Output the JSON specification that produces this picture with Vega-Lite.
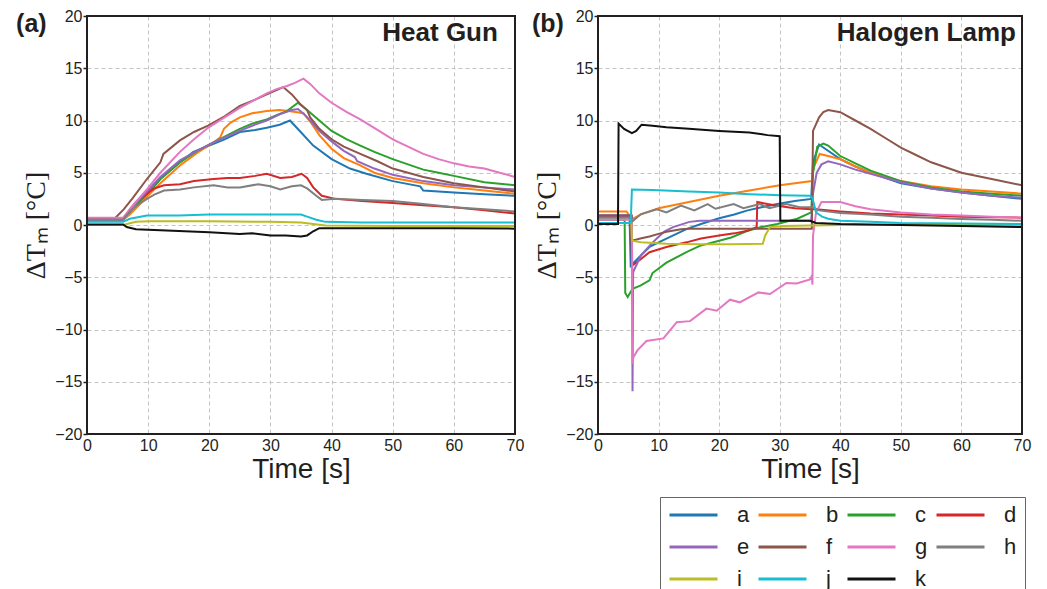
{
  "$schema": "https://vega.github.io/schema/vega-lite/v6.json",
  "padding": {"left": 16, "top": 8, "right": 5, "bottom": 0},
  "background": "white",
  "config": {
    "font": "Liberation Sans",
    "view": {"stroke": null},
    "axis": {
      "grid": true, "gridColor": "#c4c4c4", "gridDash": [4, 3], "gridWidth": 1,
      "domain": false, "labelFont": "Liberation Sans", "labelFontSize": 16,
      "labelColor": "#231f20", "tickColor": "#231f20", "tickWidth": 1.5,
      "titleColor": "#231f20", "titleFontWeight": "normal", "labelOverlap": false,
      "labelBound": false, "labelFlush": false
    },
    "legend": {
      "orient": "none", "legendX": 573, "legendY": 481, "columns": 4, "direction": "horizontal",
      "symbolType": "stroke", "symbolSize": 2304, "symbolStrokeWidth": 3,
      "clipHeight": 20, "labelFontSize": 22, "labelFont": "Liberation Sans",
      "labelColor": "#231f20", "labelOffset": 18, "columnPadding": 7, "rowPadding": 10,
      "padding": 8, "strokeColor": "#666666", "fillColor": "white", "title": null
    }
  },
  "datasets": {
    "heat": [
      {"s":"a","t":0,"v":0.5},{"s":"a","t":5.9,"v":0.5},{"s":"a","t":7,"v":1.2},{"s":"a","t":8,"v":1.9},{"s":"a","t":9.8,"v":2.9},{"s":"a","t":12,"v":4.4},{"s":"a","t":15.2,"v":6.0},{"s":"a","t":17.4,"v":7.0},{"s":"a","t":20,"v":7.6},{"s":"a","t":22.5,"v":8.2},{"s":"a","t":25,"v":8.9},{"s":"a","t":27.5,"v":9.1},{"s":"a","t":29.4,"v":9.3},{"s":"a","t":31.5,"v":9.6},{"s":"a","t":33.2,"v":10.0},{"s":"a","t":34.8,"v":9.0},{"s":"a","t":37,"v":7.6},{"s":"a","t":40,"v":6.3},{"s":"a","t":43,"v":5.4},{"s":"a","t":45.7,"v":4.9},{"s":"a","t":50,"v":4.2},{"s":"a","t":54.5,"v":3.7},{"s":"a","t":55,"v":3.3},{"s":"a","t":60,"v":3.1},{"s":"a","t":65,"v":2.95},{"s":"a","t":70,"v":2.8},
      {"s":"b","t":0,"v":0.5},{"s":"b","t":5.9,"v":0.5},{"s":"b","t":7,"v":1.0},{"s":"b","t":8,"v":1.6},{"s":"b","t":9.8,"v":2.7},{"s":"b","t":12,"v":4.0},{"s":"b","t":15.2,"v":5.7},{"s":"b","t":18,"v":6.9},{"s":"b","t":20.7,"v":7.9},{"s":"b","t":21.8,"v":8.4},{"s":"b","t":22.4,"v":9.2},{"s":"b","t":23.5,"v":9.8},{"s":"b","t":25,"v":10.3},{"s":"b","t":27,"v":10.7},{"s":"b","t":29.4,"v":10.9},{"s":"b","t":31.5,"v":11.0},{"s":"b","t":33,"v":10.9},{"s":"b","t":35.4,"v":10.7},{"s":"b","t":36.5,"v":9.9},{"s":"b","t":38,"v":8.6},{"s":"b","t":40,"v":7.3},{"s":"b","t":42,"v":6.4},{"s":"b","t":44.7,"v":5.7},{"s":"b","t":47,"v":5.0},{"s":"b","t":50,"v":4.5},{"s":"b","t":55,"v":4.0},{"s":"b","t":60,"v":3.6},{"s":"b","t":65,"v":3.3},{"s":"b","t":70,"v":3.0},
      {"s":"c","t":0,"v":0.5},{"s":"c","t":5.9,"v":0.5},{"s":"c","t":7,"v":1.3},{"s":"c","t":8,"v":2.0},{"s":"c","t":9.8,"v":3.0},{"s":"c","t":12,"v":4.4},{"s":"c","t":15.2,"v":6.0},{"s":"c","t":18,"v":7.1},{"s":"c","t":20.7,"v":7.9},{"s":"c","t":23,"v":8.6},{"s":"c","t":25,"v":9.2},{"s":"c","t":27,"v":9.7},{"s":"c","t":29.4,"v":10.1},{"s":"c","t":31,"v":10.5},{"s":"c","t":32.7,"v":10.9},{"s":"c","t":34.5,"v":11.7},{"s":"c","t":36,"v":11.0},{"s":"c","t":38,"v":10.0},{"s":"c","t":40,"v":9.0},{"s":"c","t":42.5,"v":8.2},{"s":"c","t":44.7,"v":7.6},{"s":"c","t":47,"v":7.0},{"s":"c","t":50,"v":6.3},{"s":"c","t":52.5,"v":5.8},{"s":"c","t":55,"v":5.3},{"s":"c","t":57.5,"v":5.0},{"s":"c","t":60,"v":4.7},{"s":"c","t":65,"v":4.1},{"s":"c","t":70,"v":3.8},
      {"s":"d","t":0,"v":0.5},{"s":"d","t":5.9,"v":0.5},{"s":"d","t":7,"v":1.5},{"s":"d","t":8,"v":2.2},{"s":"d","t":9.8,"v":3.0},{"s":"d","t":11,"v":3.5},{"s":"d","t":12.6,"v":3.8},{"s":"d","t":15.2,"v":3.9},{"s":"d","t":17.5,"v":4.2},{"s":"d","t":20.7,"v":4.4},{"s":"d","t":23,"v":4.5},{"s":"d","t":25,"v":4.5},{"s":"d","t":27.5,"v":4.7},{"s":"d","t":29.4,"v":4.9},{"s":"d","t":31.6,"v":4.5},{"s":"d","t":33.5,"v":4.6},{"s":"d","t":35.1,"v":4.9},{"s":"d","t":36,"v":4.5},{"s":"d","t":37,"v":3.6},{"s":"d","t":38.4,"v":2.8},{"s":"d","t":40.6,"v":2.5},{"s":"d","t":45,"v":2.3},{"s":"d","t":50,"v":2.1},{"s":"d","t":55,"v":1.9},{"s":"d","t":60,"v":1.7},{"s":"d","t":65,"v":1.4},{"s":"d","t":70,"v":1.1},
      {"s":"e","t":0,"v":0.5},{"s":"e","t":5.9,"v":0.5},{"s":"e","t":7,"v":1.3},{"s":"e","t":8,"v":2.1},{"s":"e","t":9.8,"v":3.2},{"s":"e","t":12,"v":4.6},{"s":"e","t":15.2,"v":6.2},{"s":"e","t":18,"v":7.1},{"s":"e","t":20.7,"v":7.9},{"s":"e","t":23,"v":8.5},{"s":"e","t":25,"v":9.0},{"s":"e","t":27,"v":9.5},{"s":"e","t":29.4,"v":10.0},{"s":"e","t":31.5,"v":10.6},{"s":"e","t":33.5,"v":11.0},{"s":"e","t":34.5,"v":11.1},{"s":"e","t":35.5,"v":10.6},{"s":"e","t":36.5,"v":10.0},{"s":"e","t":38,"v":9.0},{"s":"e","t":40,"v":8.0},{"s":"e","t":42,"v":7.1},{"s":"e","t":43.8,"v":6.5},{"s":"e","t":44.2,"v":6.1},{"s":"e","t":47,"v":5.4},{"s":"e","t":50,"v":4.8},{"s":"e","t":55,"v":4.2},{"s":"e","t":60,"v":3.8},{"s":"e","t":65,"v":3.6},{"s":"e","t":70,"v":3.4},
      {"s":"f","t":0,"v":0.6},{"s":"f","t":4.5,"v":0.6},{"s":"f","t":6,"v":1.5},{"s":"f","t":7.5,"v":2.6},{"s":"f","t":9.8,"v":4.4},{"s":"f","t":12,"v":6.0},{"s":"f","t":12.5,"v":6.8},{"s":"f","t":15.2,"v":8.1},{"s":"f","t":17.5,"v":8.9},{"s":"f","t":19.8,"v":9.5},{"s":"f","t":22.5,"v":10.4},{"s":"f","t":25,"v":11.4},{"s":"f","t":27.5,"v":12.0},{"s":"f","t":29.4,"v":12.5},{"s":"f","t":31,"v":12.9},{"s":"f","t":32.1,"v":13.2},{"s":"f","t":33.5,"v":12.5},{"s":"f","t":35,"v":11.5},{"s":"f","t":36,"v":11.0},{"s":"f","t":36.5,"v":10.3},{"s":"f","t":38,"v":9.2},{"s":"f","t":40,"v":8.2},{"s":"f","t":42,"v":7.5},{"s":"f","t":44.7,"v":6.8},{"s":"f","t":47.5,"v":6.1},{"s":"f","t":50,"v":5.4},{"s":"f","t":55,"v":4.6},{"s":"f","t":60,"v":4.0},{"s":"f","t":65,"v":3.6},{"s":"f","t":70,"v":3.2},
      {"s":"g","t":0,"v":0.7},{"s":"g","t":5.9,"v":0.7},{"s":"g","t":7,"v":1.5},{"s":"g","t":8,"v":2.2},{"s":"g","t":9.8,"v":3.4},{"s":"g","t":12,"v":5.0},{"s":"g","t":15.2,"v":7.0},{"s":"g","t":17.5,"v":8.2},{"s":"g","t":19.8,"v":9.3},{"s":"g","t":22.5,"v":10.3},{"s":"g","t":25,"v":11.2},{"s":"g","t":27.5,"v":12.0},{"s":"g","t":29.4,"v":12.6},{"s":"g","t":31,"v":13.0},{"s":"g","t":32.7,"v":13.3},{"s":"g","t":34,"v":13.6},{"s":"g","t":35.4,"v":14.0},{"s":"g","t":36.5,"v":13.5},{"s":"g","t":38,"v":12.6},{"s":"g","t":40,"v":11.7},{"s":"g","t":42.5,"v":10.8},{"s":"g","t":44.7,"v":10.1},{"s":"g","t":47.5,"v":9.1},{"s":"g","t":50,"v":8.2},{"s":"g","t":52.5,"v":7.5},{"s":"g","t":55,"v":6.8},{"s":"g","t":57.5,"v":6.3},{"s":"g","t":60,"v":5.9},{"s":"g","t":62.5,"v":5.6},{"s":"g","t":65,"v":5.4},{"s":"g","t":67.5,"v":5.0},{"s":"g","t":70,"v":4.6},
      {"s":"h","t":0,"v":0.5},{"s":"h","t":5.9,"v":0.5},{"s":"h","t":7,"v":1.3},{"s":"h","t":8,"v":1.8},{"s":"h","t":9.8,"v":2.5},{"s":"h","t":11,"v":2.9},{"s":"h","t":12.6,"v":3.3},{"s":"h","t":15.2,"v":3.4},{"s":"h","t":17.5,"v":3.6},{"s":"h","t":20.7,"v":3.8},{"s":"h","t":23,"v":3.6},{"s":"h","t":25,"v":3.6},{"s":"h","t":28,"v":3.9},{"s":"h","t":30,"v":3.7},{"s":"h","t":31.6,"v":3.4},{"s":"h","t":33.5,"v":3.7},{"s":"h","t":35,"v":3.8},{"s":"h","t":36,"v":3.5},{"s":"h","t":37.5,"v":2.8},{"s":"h","t":38.4,"v":2.4},{"s":"h","t":40.6,"v":2.5},{"s":"h","t":45,"v":2.4},{"s":"h","t":50,"v":2.3},{"s":"h","t":55,"v":2.0},{"s":"h","t":60,"v":1.7},{"s":"h","t":65,"v":1.5},{"s":"h","t":70,"v":1.3},
      {"s":"i","t":0,"v":0.0},{"s":"i","t":5.9,"v":0.0},{"s":"i","t":8,"v":0.3},{"s":"i","t":10,"v":0.35},{"s":"i","t":20,"v":0.35},{"s":"i","t":30,"v":0.3},{"s":"i","t":35,"v":0.25},{"s":"i","t":37,"v":0.1},{"s":"i","t":39,"v":-0.05},{"s":"i","t":50,"v":-0.1},{"s":"i","t":60,"v":-0.1},{"s":"i","t":70,"v":-0.1},
      {"s":"j","t":0,"v":0.3},{"s":"j","t":5.9,"v":0.3},{"s":"j","t":7,"v":0.6},{"s":"j","t":9.8,"v":0.9},{"s":"j","t":15,"v":0.9},{"s":"j","t":20,"v":1.0},{"s":"j","t":25,"v":1.0},{"s":"j","t":30,"v":1.0},{"s":"j","t":35,"v":1.0},{"s":"j","t":36,"v":0.8},{"s":"j","t":37.5,"v":0.5},{"s":"j","t":39,"v":0.3},{"s":"j","t":45,"v":0.25},{"s":"j","t":50,"v":0.25},{"s":"j","t":60,"v":0.25},{"s":"j","t":70,"v":0.25},
      {"s":"k","t":0,"v":0.05},{"s":"k","t":5.9,"v":0.05},{"s":"k","t":6.5,"v":-0.2},{"s":"k","t":8,"v":-0.4},{"s":"k","t":12,"v":-0.5},{"s":"k","t":16,"v":-0.6},{"s":"k","t":20,"v":-0.7},{"s":"k","t":25,"v":-0.85},{"s":"k","t":27,"v":-0.8},{"s":"k","t":30,"v":-1.0},{"s":"k","t":32.5,"v":-1.0},{"s":"k","t":35,"v":-1.1},{"s":"k","t":36,"v":-1.0},{"s":"k","t":37,"v":-0.6},{"s":"k","t":38,"v":-0.3},{"s":"k","t":40,"v":-0.3},{"s":"k","t":50,"v":-0.3},{"s":"k","t":60,"v":-0.3},{"s":"k","t":70,"v":-0.35}
    ],
    "halogen": [
      {"s":"a","t":0,"v":0.9},{"s":"a","t":5.2,"v":0.9},{"s":"a","t":5.4,"v":-3.9},{"s":"a","t":6.5,"v":-3.25},{"s":"a","t":8.5,"v":-2.1},{"s":"a","t":11.3,"v":-1.3},{"s":"a","t":14.6,"v":-0.4},{"s":"a","t":17,"v":0.1},{"s":"a","t":20,"v":0.64},{"s":"a","t":22.5,"v":1.0},{"s":"a","t":24.7,"v":1.4},{"s":"a","t":27,"v":1.7},{"s":"a","t":29.6,"v":2.0},{"s":"a","t":32.5,"v":2.3},{"s":"a","t":35.2,"v":2.5},{"s":"a","t":35.5,"v":6.0},{"s":"a","t":36.5,"v":7.7},{"s":"a","t":37.5,"v":7.3},{"s":"a","t":40,"v":6.3},{"s":"a","t":42.5,"v":5.6},{"s":"a","t":45,"v":5.0},{"s":"a","t":47.5,"v":4.5},{"s":"a","t":50,"v":4.0},{"s":"a","t":55,"v":3.5},{"s":"a","t":60,"v":3.1},{"s":"a","t":65,"v":2.8},{"s":"a","t":70,"v":2.5},
      {"s":"b","t":0,"v":1.3},{"s":"b","t":4.7,"v":1.3},{"s":"b","t":5.3,"v":0.8},{"s":"b","t":5.8,"v":0.6},{"s":"b","t":7,"v":1.0},{"s":"b","t":10,"v":1.6},{"s":"b","t":15,"v":2.2},{"s":"b","t":20,"v":2.8},{"s":"b","t":25,"v":3.3},{"s":"b","t":30,"v":3.8},{"s":"b","t":35.3,"v":4.2},{"s":"b","t":35.6,"v":5.5},{"s":"b","t":36.6,"v":6.8},{"s":"b","t":38,"v":6.6},{"s":"b","t":40,"v":6.3},{"s":"b","t":42.5,"v":5.6},{"s":"b","t":45,"v":5.0},{"s":"b","t":47.5,"v":4.6},{"s":"b","t":50,"v":4.2},{"s":"b","t":55,"v":3.7},{"s":"b","t":60,"v":3.4},{"s":"b","t":65,"v":3.2},{"s":"b","t":70,"v":3.0},
      {"s":"c","t":0,"v":0.5},{"s":"c","t":4.4,"v":0.5},{"s":"c","t":4.5,"v":-6.5},{"s":"c","t":4.9,"v":-6.9},{"s":"c","t":5.7,"v":-6.1},{"s":"c","t":7,"v":-5.8},{"s":"c","t":8.5,"v":-5.3},{"s":"c","t":9,"v":-4.6},{"s":"c","t":11.3,"v":-3.6},{"s":"c","t":14.6,"v":-2.6},{"s":"c","t":16.8,"v":-2.0},{"s":"c","t":20,"v":-1.5},{"s":"c","t":22,"v":-1.2},{"s":"c","t":24.7,"v":-0.55},{"s":"c","t":27,"v":-0.2},{"s":"c","t":29.6,"v":0.1},{"s":"c","t":32.9,"v":0.6},{"s":"c","t":35.2,"v":1.2},{"s":"c","t":35.5,"v":5.0},{"s":"c","t":36.2,"v":7.5},{"s":"c","t":37.2,"v":7.8},{"s":"c","t":38,"v":7.6},{"s":"c","t":40,"v":6.6},{"s":"c","t":42.5,"v":5.9},{"s":"c","t":45,"v":5.2},{"s":"c","t":47.5,"v":4.7},{"s":"c","t":50,"v":4.2},{"s":"c","t":55,"v":3.6},{"s":"c","t":60,"v":3.2},{"s":"c","t":65,"v":3.0},{"s":"c","t":70,"v":2.8},
      {"s":"d","t":0,"v":0.8},{"s":"d","t":5.5,"v":0.8},{"s":"d","t":5.6,"v":-3.9},{"s":"d","t":7,"v":-3.3},{"s":"d","t":8.5,"v":-2.6},{"s":"d","t":11.3,"v":-2.1},{"s":"d","t":14.6,"v":-1.66},{"s":"d","t":17,"v":-1.3},{"s":"d","t":20,"v":-1.0},{"s":"d","t":22.5,"v":-0.8},{"s":"d","t":24.7,"v":-0.55},{"s":"d","t":26.2,"v":-0.2},{"s":"d","t":26.3,"v":2.2},{"s":"d","t":28,"v":2.0},{"s":"d","t":29.6,"v":1.85},{"s":"d","t":32.5,"v":1.6},{"s":"d","t":35.2,"v":1.5},{"s":"d","t":36,"v":1.5},{"s":"d","t":40,"v":1.3},{"s":"d","t":45,"v":1.1},{"s":"d","t":50,"v":1.0},{"s":"d","t":55,"v":0.9},{"s":"d","t":60,"v":0.8},{"s":"d","t":65,"v":0.75},{"s":"d","t":70,"v":0.7},
      {"s":"e","t":0,"v":0.9},{"s":"e","t":5.6,"v":0.9},{"s":"e","t":5.7,"v":-15.9},{"s":"e","t":5.8,"v":-4.5},{"s":"e","t":7.1,"v":-2.9},{"s":"e","t":8.5,"v":-2.0},{"s":"e","t":9.7,"v":-1.3},{"s":"e","t":11,"v":-0.6},{"s":"e","t":12.4,"v":-0.2},{"s":"e","t":15.1,"v":0.3},{"s":"e","t":16.8,"v":0.4},{"s":"e","t":25,"v":0.4},{"s":"e","t":35.2,"v":0.4},{"s":"e","t":35.5,"v":3.0},{"s":"e","t":36.1,"v":5.0},{"s":"e","t":36.9,"v":5.8},{"s":"e","t":38,"v":6.1},{"s":"e","t":40,"v":5.8},{"s":"e","t":42.5,"v":5.3},{"s":"e","t":45,"v":4.9},{"s":"e","t":47.5,"v":4.5},{"s":"e","t":50,"v":4.1},{"s":"e","t":55,"v":3.5},{"s":"e","t":60,"v":3.1},{"s":"e","t":65,"v":2.8},{"s":"e","t":70,"v":2.6},
      {"s":"f","t":0,"v":0.9},{"s":"f","t":5.5,"v":0.9},{"s":"f","t":5.6,"v":-1.5},{"s":"f","t":7,"v":-1.3},{"s":"f","t":8.5,"v":-1.1},{"s":"f","t":10,"v":-0.85},{"s":"f","t":11.3,"v":-0.64},{"s":"f","t":13.7,"v":-0.4},{"s":"f","t":15,"v":-0.35},{"s":"f","t":20,"v":-0.35},{"s":"f","t":25,"v":-0.35},{"s":"f","t":30,"v":-0.35},{"s":"f","t":35.3,"v":-0.35},{"s":"f","t":35.5,"v":9.0},{"s":"f","t":36.5,"v":10.3},{"s":"f","t":37.2,"v":10.8},{"s":"f","t":38,"v":11.0},{"s":"f","t":40,"v":10.8},{"s":"f","t":42.5,"v":10.0},{"s":"f","t":45,"v":9.2},{"s":"f","t":47.5,"v":8.3},{"s":"f","t":50,"v":7.4},{"s":"f","t":52.5,"v":6.7},{"s":"f","t":55,"v":6.0},{"s":"f","t":57.5,"v":5.5},{"s":"f","t":60,"v":5.0},{"s":"f","t":65,"v":4.4},{"s":"f","t":70,"v":3.8},
      {"s":"g","t":0,"v":0.5},{"s":"g","t":5.6,"v":0.5},{"s":"g","t":5.7,"v":-13.3},{"s":"g","t":5.8,"v":-12.7},{"s":"g","t":6.5,"v":-12.0},{"s":"g","t":8.0,"v":-11.1},{"s":"g","t":10.8,"v":-10.85},{"s":"g","t":13.0,"v":-9.3},{"s":"g","t":15.2,"v":-9.2},{"s":"g","t":17.9,"v":-8.0},{"s":"g","t":19.6,"v":-8.2},{"s":"g","t":21.8,"v":-7.15},{"s":"g","t":23.4,"v":-7.4},{"s":"g","t":26.5,"v":-6.45},{"s":"g","t":28.4,"v":-6.6},{"s":"g","t":31.1,"v":-5.55},{"s":"g","t":32.8,"v":-5.6},{"s":"g","t":35.0,"v":-5.2},{"s":"g","t":35.3,"v":-4.85},{"s":"g","t":35.4,"v":-5.7},{"s":"g","t":35.5,"v":-1.0},{"s":"g","t":36,"v":1.2},{"s":"g","t":36.9,"v":2.2},{"s":"g","t":40,"v":2.2},{"s":"g","t":42.5,"v":1.8},{"s":"g","t":45,"v":1.5},{"s":"g","t":50,"v":1.2},{"s":"g","t":55,"v":1.0},{"s":"g","t":60,"v":0.9},{"s":"g","t":65,"v":0.8},{"s":"g","t":70,"v":0.7},
      {"s":"h","t":0,"v":0.7},{"s":"h","t":5.5,"v":0.7},{"s":"h","t":5.6,"v":0.3},{"s":"h","t":7.1,"v":1.05},{"s":"h","t":9.7,"v":1.5},{"s":"h","t":11.3,"v":1.2},{"s":"h","t":13.7,"v":1.85},{"s":"h","t":15.9,"v":1.4},{"s":"h","t":18.1,"v":2.0},{"s":"h","t":19.4,"v":1.55},{"s":"h","t":22.4,"v":2.0},{"s":"h","t":24.0,"v":1.6},{"s":"h","t":26.7,"v":2.0},{"s":"h","t":28.3,"v":1.6},{"s":"h","t":31.1,"v":2.0},{"s":"h","t":33.3,"v":1.7},{"s":"h","t":35.5,"v":1.7},{"s":"h","t":36.5,"v":1.4},{"s":"h","t":40,"v":1.15},{"s":"h","t":45,"v":1.0},{"s":"h","t":50,"v":0.8},{"s":"h","t":55,"v":0.7},{"s":"h","t":60,"v":0.57},{"s":"h","t":65,"v":0.5},{"s":"h","t":70,"v":0.4},
      {"s":"i","t":0,"v":0.2},{"s":"i","t":5.5,"v":0.2},{"s":"i","t":5.6,"v":-1.5},{"s":"i","t":7.1,"v":-1.66},{"s":"i","t":11.3,"v":-1.8},{"s":"i","t":16.8,"v":-1.85},{"s":"i","t":22,"v":-1.85},{"s":"i","t":27.2,"v":-1.8},{"s":"i","t":27.6,"v":-1.0},{"s":"i","t":28.4,"v":-0.2},{"s":"i","t":30.6,"v":-0.1},{"s":"i","t":35,"v":-0.05},{"s":"i","t":40,"v":0.0},{"s":"i","t":50,"v":0.0},{"s":"i","t":60,"v":0.0},{"s":"i","t":70,"v":0.0},
      {"s":"j","t":0,"v":0.2},{"s":"j","t":5.4,"v":0.2},{"s":"j","t":5.6,"v":3.4},{"s":"j","t":9,"v":3.35},{"s":"j","t":15,"v":3.2},{"s":"j","t":20,"v":3.1},{"s":"j","t":25,"v":2.95},{"s":"j","t":30,"v":2.85},{"s":"j","t":35,"v":2.8},{"s":"j","t":35.4,"v":2.6},{"s":"j","t":36,"v":1.2},{"s":"j","t":37,"v":0.8},{"s":"j","t":38,"v":0.6},{"s":"j","t":40,"v":0.4},{"s":"j","t":45,"v":0.3},{"s":"j","t":50,"v":0.2},{"s":"j","t":60,"v":0.15},{"s":"j","t":70,"v":0.1},
      {"s":"k","t":0,"v":0.1},{"s":"k","t":3.3,"v":0.1},{"s":"k","t":3.4,"v":9.7},{"s":"k","t":4.3,"v":9.2},{"s":"k","t":5.6,"v":8.8},{"s":"k","t":6.3,"v":9.0},{"s":"k","t":7.2,"v":9.6},{"s":"k","t":9,"v":9.5},{"s":"k","t":11.3,"v":9.35},{"s":"k","t":15,"v":9.2},{"s":"k","t":20,"v":9.0},{"s":"k","t":25,"v":8.85},{"s":"k","t":28,"v":8.6},{"s":"k","t":30,"v":8.5},{"s":"k","t":30.1,"v":0.4},{"s":"k","t":35,"v":0.4},{"s":"k","t":36,"v":0.2},{"s":"k","t":40,"v":0.1},{"s":"k","t":50,"v":0.0},{"s":"k","t":60,"v":-0.1},{"s":"k","t":70,"v":-0.2}
    ]
  },
  "hconcat": [
    {
      "width": 428, "height": 418,
      "layer": [
        {
          "data": {"name": "heat"},
          "mark": {"type": "line", "strokeWidth": 2, "clip": true},
          "encoding": {
            "x": {"field": "t", "type": "quantitative", "scale": {"domain": [0, 70], "nice": false, "zero": false},
                  "axis": {"values": [0,10,20,30,40,50,60,70], "ticks": false, "tickSize": 0, "labelPadding": 3, "title": "Time [s]", "titleFontSize": 28, "titlePadding": 2}},
            "y": {"field": "v", "type": "quantitative", "scale": {"domain": [-20, 20], "nice": false, "zero": false},
                  "axis": {"values": [-20,-15,-10,-5,0,5,10,15,20], "tickSize": 4, "labelPadding": 1, "title": "ΔTₘ [°C]", "titleFont": "Liberation Serif", "titleFontSize": 28, "titlePadding": 4}},
            "color": {"field": "s", "type": "nominal",
                      "scale": {"domain": ["a","b","c","d","e","f","g","h","i","j","k"],
                                "range": ["#1f77b4","#ff7f0e","#2ca02c","#d62728","#9467bd","#8c564b","#e377c2","#7f7f7f","#bcbd22","#17becf","#111111"]}}
          }
        },
        {
          "data": {"values": [{}]},
          "mark": {"type": "rect", "fill": null, "stroke": "#231f20", "strokeWidth": 2},
          "encoding": {"x": {"datum": 0}, "x2": {"datum": 70}, "y": {"datum": -20}, "y2": {"datum": 20}}
        },
        {
          "data": {"values": [{}]},
          "mark": {"type": "text", "fontWeight": "bold", "fontSize": 26, "align": "right", "baseline": "alphabetic", "color": "#231f20"},
          "encoding": {"x": {"datum": 67.2}, "y": {"datum": 17.6}, "text": {"value": "Heat Gun"}}
        },
        {
          "data": {"values": [{}]},
          "mark": {"type": "text", "fontWeight": "bold", "fontSize": 25, "align": "left", "baseline": "alphabetic", "color": "#231f20"},
          "encoding": {"x": {"datum": -11.6}, "y": {"datum": 18.5}, "text": {"value": "(a)"}}
        }
      ]
    },
    {
      "width": 424, "height": 418,
      "layer": [
        {
          "data": {"name": "halogen"},
          "mark": {"type": "line", "strokeWidth": 2, "clip": true},
          "encoding": {
            "x": {"field": "t", "type": "quantitative", "scale": {"domain": [0, 70], "nice": false, "zero": false},
                  "axis": {"values": [0,10,20,30,40,50,60,70], "ticks": false, "tickSize": 0, "labelPadding": 3, "title": "Time [s]", "titleFontSize": 28, "titlePadding": 2}},
            "y": {"field": "v", "type": "quantitative", "scale": {"domain": [-20, 20], "nice": false, "zero": false},
                  "axis": {"values": [-20,-15,-10,-5,0,5,10,15,20], "tickSize": 4, "labelPadding": 1, "title": "ΔTₘ [°C]", "titleFont": "Liberation Serif", "titleFontSize": 28, "titlePadding": 4}},
            "color": {"field": "s", "type": "nominal",
                      "scale": {"domain": ["a","b","c","d","e","f","g","h","i","j","k"],
                                "range": ["#1f77b4","#ff7f0e","#2ca02c","#d62728","#9467bd","#8c564b","#e377c2","#7f7f7f","#bcbd22","#17becf","#111111"]}}
          }
        },
        {
          "data": {"values": [{}]},
          "mark": {"type": "rect", "fill": null, "stroke": "#231f20", "strokeWidth": 2},
          "encoding": {"x": {"datum": 0}, "x2": {"datum": 70}, "y": {"datum": -20}, "y2": {"datum": 20}}
        },
        {
          "data": {"values": [{}]},
          "mark": {"type": "text", "fontWeight": "bold", "fontSize": 26, "align": "right", "baseline": "alphabetic", "color": "#231f20"},
          "encoding": {"x": {"datum": 69.0}, "y": {"datum": 17.6}, "text": {"value": "Halogen Lamp"}}
        },
        {
          "data": {"values": [{}]},
          "mark": {"type": "text", "fontWeight": "bold", "fontSize": 25, "align": "left", "baseline": "alphabetic", "color": "#231f20"},
          "encoding": {"x": {"datum": -10.9}, "y": {"datum": 18.5}, "text": {"value": "(b)"}}
        }
      ]
    }
  ],
  "spacing": 83,
  "bounds": "flush"
}
